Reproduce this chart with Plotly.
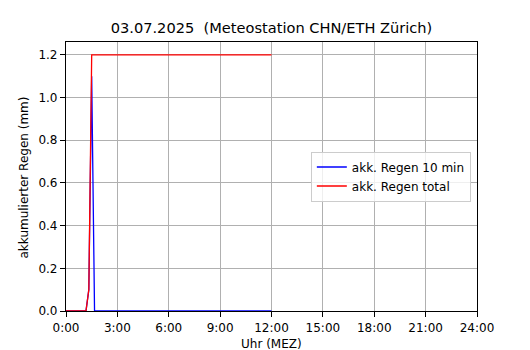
import plotly.graph_objects as go

# Time of day (10-minute steps, 0:00 to 12:00)
times = ["0:00","0:10","0:20","0:30","0:40","0:50",
         "1:00","1:10","1:20","1:30","1:40","1:50",
         "2:00","2:10","2:20","2:30","2:40","2:50",
         "3:00","3:10","3:20","3:30","3:40","3:50",
         "4:00","4:10","4:20","4:30","4:40","4:50",
         "5:00","5:10","5:20","5:30","5:40","5:50",
         "6:00","6:10","6:20","6:30","6:40","6:50",
         "7:00","7:10","7:20","7:30","7:40","7:50",
         "8:00","8:10","8:20","8:30","8:40","8:50",
         "9:00","9:10","9:20","9:30","9:40","9:50",
         "10:00","10:10","10:20","10:30","10:40","10:50",
         "11:00","11:10","11:20","11:30","11:40","11:50",
         "12:00"]

rain_10min = [0, 0, 0, 0, 0, 0,
              0, 0, 0.1, 1.1, 0, 0,
              0, 0, 0, 0, 0, 0,
              0, 0, 0, 0, 0, 0,
              0, 0, 0, 0, 0, 0,
              0, 0, 0, 0, 0, 0,
              0, 0, 0, 0, 0, 0,
              0, 0, 0, 0, 0, 0,
              0, 0, 0, 0, 0, 0,
              0, 0, 0, 0, 0, 0,
              0, 0, 0, 0, 0, 0,
              0, 0, 0, 0, 0, 0,
              0]

rain_total = [0, 0, 0, 0, 0, 0,
              0, 0, 0.1, 1.2, 1.2, 1.2,
              1.2, 1.2, 1.2, 1.2, 1.2, 1.2,
              1.2, 1.2, 1.2, 1.2, 1.2, 1.2,
              1.2, 1.2, 1.2, 1.2, 1.2, 1.2,
              1.2, 1.2, 1.2, 1.2, 1.2, 1.2,
              1.2, 1.2, 1.2, 1.2, 1.2, 1.2,
              1.2, 1.2, 1.2, 1.2, 1.2, 1.2,
              1.2, 1.2, 1.2, 1.2, 1.2, 1.2,
              1.2, 1.2, 1.2, 1.2, 1.2, 1.2,
              1.2, 1.2, 1.2, 1.2, 1.2, 1.2,
              1.2, 1.2, 1.2, 1.2, 1.2, 1.2,
              1.2]

tick_hours = [0, 3, 6, 9, 12, 15, 18, 21, 24]
tick_labels = ["0:00", "3:00", "6:00", "9:00", "12:00", "15:00", "18:00", "21:00", "24:00"]

def to_hours(t):
    h, m = t.split(":")
    return int(h) + int(m) / 60.0

x = [to_hours(t) for t in times]

FONT = "DejaVu Sans"
FS = 12
L, R, T, B = 66, 53, 42, 39
W, H = 530, 350
PW, PH = W - L - R, H - T - B

fig = go.Figure()
fig.add_trace(go.Scatter(x=x, y=rain_10min, mode="lines", name="akk. Regen 10 min",
                         line=dict(color="blue", width=1.3)))
fig.add_trace(go.Scatter(x=x, y=rain_total, mode="lines", name="akk. Regen total",
                         line=dict(color="red", width=1.3)))

axis_common = dict(showline=True, linecolor="black", linewidth=1.2, mirror=True,
                   ticks="outside", ticklen=5, tickcolor="black", tickwidth=1,
                   showgrid=True, gridcolor="#b0b0b0", gridwidth=1, zeroline=False,
                   automargin=False, layer="below traces",
                   tickfont=dict(family=FONT, size=FS, color="black"))

fig.update_layout(
    width=W, height=H,
    paper_bgcolor="white", plot_bgcolor="white",
    margin=dict(l=L, r=R, t=T, b=B, pad=0),
    title=dict(text="03.07.2025  (Meteostation CHN/ETH Zürich)", x=(L + W - R) / 2 / W, xanchor="center",
               y=1 - 28 / H, yanchor="middle",
               font=dict(family=FONT, size=14.6, color="black")),
    xaxis=dict(range=[0, 24], tickvals=tick_hours, ticktext=tick_labels,
               **axis_common),
    yaxis=dict(range=[0, 1.26], dtick=0.2, tick0=0, tickformat=".1f",
               **axis_common),
    legend=dict(x=0.985, xanchor="right", y=0.5, yanchor="middle",
                bgcolor="rgba(255,255,255,0.8)", bordercolor="#cccccc", borderwidth=1,
                font=dict(family=FONT, size=FS, color="black"),
                tracegroupgap=0, itemwidth=30),
    showlegend=True,
    annotations=[
        dict(text="akkumulierter Regen (mm)", textangle=-90,
             xref="paper", yref="paper", x=(23 - L) / PW, y=(H - B - 177.5) / PH,
             xanchor="center", yanchor="middle", showarrow=False,
             font=dict(family=FONT, size=FS, color="black")),
        dict(text="Uhr (MEZ)",
             xref="paper", yref="paper", x=0.5, y=-(344 - (H - B)) / PH,
             xanchor="center", yanchor="middle", showarrow=False,
             font=dict(family=FONT, size=FS, color="black")),
    ],
)

fig.write_html("out.html", config={"displayModeBar": False},
               post_script="document.body.style.margin='0';document.body.style.padding='0';")
